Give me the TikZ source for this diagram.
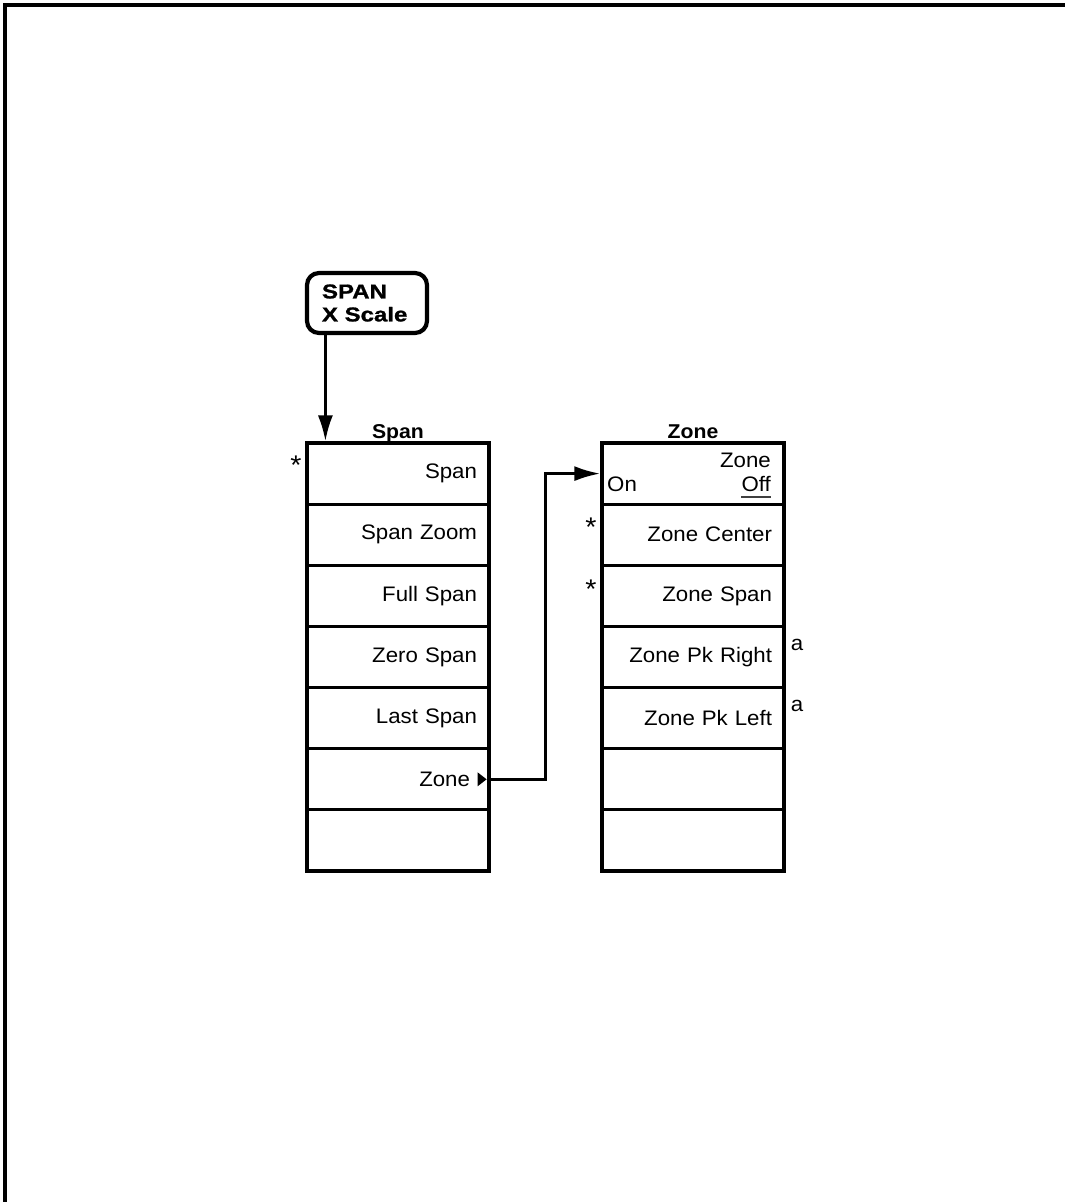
\documentclass[tikz,border=0pt]{standalone}
\usepackage{fontspec}
\setmainfont[FakeStretch=1.06]{Liberation Sans}
\newfontfamily\keyfont[FakeStretch=1.2,FakeBold=1.2]{Liberation Sans}
\usetikzlibrary{arrows.meta}
\begin{document}
\begin{tikzpicture}[x=1pt,y=-1pt,
  menurow/.style={draw,line width=3.2pt,minimum width=182pt,minimum height=61.14pt,
    text width=158pt,inner xsep=12pt,inner ysep=0pt,align=right,
    font=\fontsize{21}{25}\selectfont},
  keybox/.style={draw,line width=4.2pt,rounded corners=12pt,minimum width=120pt,
    minimum height=60pt,text width=90pt,inner xsep=15pt,align=left,
    font=\keyfont\bfseries\fontsize{20}{23}\selectfont},
  menutitle/.style={anchor=base,inner sep=0pt,font=\bfseries\fontsize{20}{24}\selectfont},
  plain/.style={anchor=base,inner sep=0pt,font=\fontsize{21}{25}\selectfont},
  sidemark/.style={anchor=base,inner sep=0pt,font=\fontsize{21}{25}\selectfont},
  starmark/.style={anchor=base,inner sep=0pt,font=\fontsize{27}{30}\selectfont},
  conn/.style={line width=3pt,-{Latex[length=26pt,width=15pt]}},
]
\useasboundingbox (0,0) rectangle (1065,1202);
% frame
\draw[line width=4.5pt] (5,1215) -- (5,5) -- (1075,5);

% hard key
\node[keybox] (key) at (367,303) {SPAN\\X Scale};

% Span menu
\node[menutitle] (spant) at (398,438) {Span};
\node[menurow] (s1) at (398,473.6) {Span};
\node[menurow] (s2) at (398,534.7) {Span Zoom};
\node[menurow] (s3) at (398,595.9) {Full Span};
\node[menurow] (s4) at (398,657.0) {Zero Span};
\node[menurow] (s5) at (398,718.1) {Last Span};
\node[menurow] (s6) at (398,779.3) {Zone\rule{7pt}{0pt}};
\node[menurow] (s7) at (398,840.4) {};
\node[starmark] (st1) at (296,474) {*};
\fill ([xshift=-13pt,yshift=-7pt]s6.east) -- ([xshift=-13pt,yshift=7pt]s6.east) -- ([xshift=-4pt]s6.east) -- cycle;

% Zone menu
\node[menutitle] (zonet) at (693,438) {Zone};
\node[menurow] (z1) at (693,473.6) {};
\node[menurow] (z2) at (693,534.7) {Zone Center};
\node[menurow] (z3) at (693,595.9) {Zone Span};
\node[menurow] (z4) at (693,657.0) {Zone Pk Right};
\node[menurow] (z5) at (693,718.1) {Zone Pk Left};
\node[menurow] (z6) at (693,779.3) {};
\node[menurow] (z7) at (693,840.4) {};
\node[plain,anchor=base east] (zz) at (771,467) {Zone};
\node[plain,anchor=base east] (zoff) at (771,491) {Off};
\node[plain,anchor=base west] (zon) at (607,491) {On};
\draw[line width=1.8pt,black!75] ([yshift=-6pt]zoff.base west) -- ([yshift=-6pt]zoff.base east);
\node[starmark] (st2) at (591,536) {*};
\node[starmark] (st3) at (591,598) {*};
\node[sidemark] (a1) at (797,650) {a};
\node[sidemark] (a2) at (797,711) {a};

% connectors
\draw[conn] ([xshift=20pt]s1.north west |- key.south) -- ([xshift=20pt]s1.north west);
\draw[conn] (s6.east) -- ++(55,0) |- (z1.west);
\end{tikzpicture}
\end{document}
